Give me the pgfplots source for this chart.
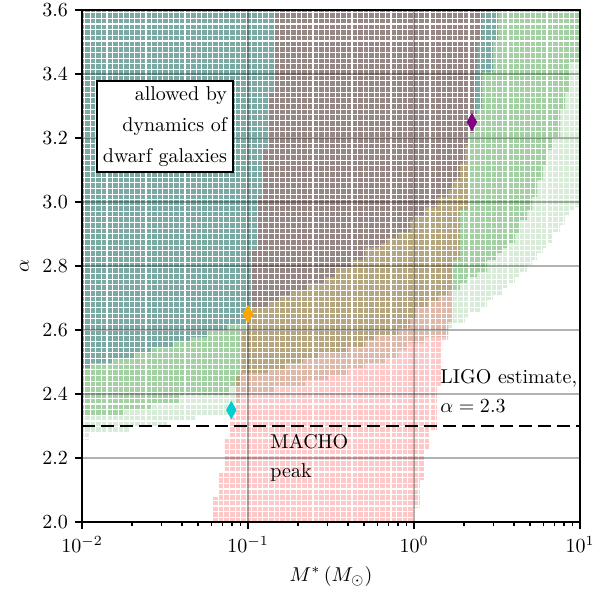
\documentclass[border=0pt]{standalone}
\usepackage{pgfplots}
\pgfplotsset{compat=1.18}

\definecolor{cTeal}{RGB}{122,170,163}
\definecolor{cBrown}{RGB}{150,134,132}
\definecolor{cGreen}{RGB}{163,209,163}
\definecolor{cLight}{RGB}{217,236,217}
\definecolor{cOlive}{RGB}{181,166,128}
\definecolor{cPinkBr}{RGB}{222,184,168}
\definecolor{cPink}{RGB}{255,200,200}
\definecolor{cOrange}{RGB}{255,165,0}
\definecolor{cCyan}{RGB}{0,206,209}
\definecolor{cPurple}{RGB}{128,0,128}

\pgfplotsset{
  panel/.style={scale only axis, width=249pt, height=256pt,
    xmin=-2, xmax=1, ymin=2, ymax=3.6},
  region/.style={draw=none, fill=#1, mark=none},
}

\begin{document}
\begin{tikzpicture}
% allowed regions; x is log10(M*/Msun)
\begin{axis}[panel, axis on top, axis line style={draw=none}, tick style={draw=none},
  xtick={-1.98373,-1.95018,...,1}, ytick={2.01448,2.0322,...,3.6},
  xticklabels={}, yticklabels={}, major tick length=0pt,
  grid=major, major grid style={white, line width=0.55pt}]

% light green (outer band)
\addplot[region=cLight] coordinates {
 (-2,3.6)(1,3.6)(1,2.984)(0.970,2.984)(0.970,2.975)(0.940,2.975)(0.940,2.959)(0.910,2.959)
 (0.910,2.928)(0.880,2.928)(0.880,2.906)(0.837,2.906)(0.837,2.872)(0.807,2.872)(0.807,2.856)
 (0.777,2.856)(0.777,2.841)(0.741,2.841)(0.741,2.819)(0.711,2.819)(0.711,2.803)(0.681,2.803)
 (0.681,2.781)(0.639,2.781)(0.639,2.766)(0.608,2.766)(0.608,2.747)(0.566,2.747)(0.566,2.731)
 (0.536,2.731)(0.536,2.709)(0.476,2.709)(0.476,2.694)(0.440,2.694)(0.440,2.672)(0.398,2.672)
 (0.398,2.656)(0.337,2.656)(0.337,2.641)(0.307,2.641)(0.307,2.622)(0.235,2.622)(0.235,2.606)
 (0.205,2.606)(0.205,2.578)(0.066,2.578)(0.066,2.559)(-0.036,2.559)(-0.036,2.538)(-0.096,2.538)
 (-0.096,2.513)(-0.175,2.513)(-0.175,2.497)(-0.295,2.497)(-0.295,2.481)(-0.398,2.481)(-0.398,2.459)
 (-0.518,2.459)(-0.518,2.444)(-0.657,2.444)(-0.657,2.422)(-0.837,2.422)(-0.837,2.403)(-1.042,2.403)
 (-1.042,2.372)(-1.072,2.372)(-1.072,2.334)(-1.319,2.334)(-1.319,2.316)(-1.488,2.316)(-1.488,2.297)
 (-1.717,2.297)(-1.717,2.281)(-1.958,2.281)(-1.958,2.256)(-2,2.256)};

% green (inner band)
\addplot[region=cGreen] coordinates {
 (-2,3.6)(1,3.6)(1,3.438)(0.940,3.438)(0.940,3.341)(0.910,3.341)(0.910,3.288)(0.880,3.288)
 (0.880,3.203)(0.837,3.203)(0.837,3.163)(0.807,3.163)(0.807,3.116)(0.777,3.116)(0.777,3.069)
 (0.741,3.069)(0.741,3.016)(0.711,3.016)(0.711,2.975)(0.681,2.975)(0.681,2.944)(0.639,2.944)
 (0.639,2.903)(0.608,2.903)(0.608,2.872)(0.566,2.872)(0.566,2.856)(0.536,2.856)(0.536,2.841)
 (0.494,2.841)(0.494,2.819)(0.440,2.819)(0.440,2.781)(0.380,2.781)(0.380,2.766)(0.319,2.766)
 (0.319,2.747)(0.277,2.747)(0.277,2.725)(0.235,2.725)(0.205,2.725)(0.205,2.709)(0.145,2.709)
 (0.145,2.688)(0.084,2.688)(0.084,2.669)(0.006,2.669)(0.006,2.638)(-0.024,2.638)(-0.024,2.606)
 (-0.096,2.606)(-0.096,2.584)(-0.235,2.584)(-0.235,2.569)(-0.295,2.569)(-0.295,2.547)(-0.398,2.547)
 (-0.398,2.528)(-0.578,2.528)(-0.578,2.513)(-0.669,2.513)(-0.669,2.497)(-0.771,2.497)(-0.771,2.475)
 (-0.880,2.475)(-0.880,2.466)(-1.042,2.466)(-1.042,2.422)(-1.114,2.422)(-1.114,2.397)(-1.416,2.397)
 (-1.416,2.366)(-1.578,2.366)(-1.578,2.350)(-1.747,2.350)(-1.747,2.334)(-2,2.334)};

% MACHO peak region
\addplot[region=cPink] coordinates {
 (-0.807,3.6)(-0.807,3.591)(-0.837,3.591)(-0.837,3.341)(-0.873,3.341)(-0.873,3.163)(-0.910,3.163)
 (-0.910,3.016)(-0.940,3.016)(-0.940,2.850)(-0.976,2.850)(-0.976,2.725)(-1.000,2.725)(-1.000,2.600)
 (-1.036,2.600)(-1.036,2.459)(-1.072,2.459)(-1.072,2.328)(-1.108,2.328)(-1.108,2.263)(-1.139,2.263)
 (-1.139,2.153)(-1.175,2.153)(-1.175,2.078)(-1.211,2.078)(-1.211,2.0)(-0.006,2.0)(-0.006,2.044)
 (0.036,2.044)(0.036,2.131)(0.066,2.131)(0.066,2.225)(0.096,2.225)(0.096,2.288)(0.139,2.288)
 (0.139,2.422)(0.169,2.422)(0.169,2.569)(0.205,2.569)(0.205,2.625)(0.235,2.625)(0.235,2.819)
 (0.277,2.819)(0.277,2.975)(0.337,2.975)(0.337,3.216)(0.367,3.216)(0.367,3.288)(0.373,3.288)
 (0.373,3.406)(0.380,3.406)(0.380,3.5)(0.410,3.5)(0.410,3.6)};

% MACHO peak and light green band
\addplot[region=cPinkBr] coordinates {
 (-0.807,3.6)(-0.807,3.591)(-0.837,3.591)(-0.837,3.341)(-0.873,3.341)(-0.873,3.163)(-0.910,3.163)
 (-0.910,3.016)(-0.940,3.016)(-0.940,2.850)(-0.976,2.850)(-0.976,2.725)(-1.000,2.725)(-1.000,2.600)
 (-1.036,2.600)(-1.036,2.459)(-1.072,2.459)(-1.072,2.372)(-1.042,2.372)(-1.042,2.403)(-0.837,2.403)
 (-0.837,2.422)(-0.657,2.422)(-0.657,2.444)(-0.518,2.444)(-0.518,2.459)(-0.398,2.459)(-0.398,2.481)
 (-0.295,2.481)(-0.295,2.497)(-0.175,2.497)(-0.175,2.513)(-0.096,2.513)(-0.096,2.538)(-0.036,2.538)
 (-0.036,2.559)(0.066,2.559)(0.066,2.578)(0.205,2.578)(0.205,2.625)(0.235,2.625)(0.235,2.819)
 (0.277,2.819)(0.277,2.975)(0.337,2.975)(0.337,3.216)(0.367,3.216)(0.367,3.288)(0.373,3.288)
 (0.373,3.406)(0.380,3.406)(0.380,3.5)(0.410,3.5)(0.410,3.6)};

% MACHO peak and green band
\addplot[region=cOlive] coordinates {
 (-0.807,3.6)(-0.807,3.591)(-0.837,3.591)(-0.837,3.341)(-0.873,3.341)(-0.873,3.163)(-0.910,3.163)
 (-0.910,3.016)(-0.940,3.016)(-0.940,2.850)(-0.976,2.850)(-0.976,2.725)(-1.000,2.725)(-1.000,2.600)
 (-1.036,2.600)(-1.036,2.459)(-1.072,2.459)(-1.072,2.422)(-1.042,2.422)(-1.042,2.466)(-0.880,2.466)
 (-0.880,2.475)(-0.771,2.475)(-0.771,2.497)(-0.669,2.497)(-0.669,2.513)(-0.578,2.513)(-0.578,2.528)
 (-0.398,2.528)(-0.398,2.547)(-0.295,2.547)(-0.295,2.569)(-0.235,2.569)(-0.235,2.584)(-0.096,2.584)
 (-0.096,2.606)(-0.024,2.606)(-0.024,2.638)(0.006,2.638)(0.006,2.669)(0.084,2.669)(0.084,2.688)
 (0.145,2.688)(0.145,2.709)(0.205,2.709)(0.205,2.725)(0.235,2.725)(0.235,2.819)(0.277,2.819)
 (0.277,2.975)(0.337,2.975)(0.337,3.216)(0.367,3.216)(0.367,3.288)(0.373,3.288)(0.373,3.406)
 (0.380,3.406)(0.380,3.5)(0.410,3.5)(0.410,3.6)};

% dwarf galaxy dynamics
\addplot[region=cTeal] coordinates {
 (-2,3.6)(0.506,3.6)(0.506,3.5)(0.476,3.5)(0.476,3.406)(0.410,3.406)(0.410,3.288)(0.380,3.288)
 (0.380,3.272)(0.367,3.272)(0.367,3.216)(0.337,3.216)(0.337,3.178)(0.307,3.178)(0.307,3.122)
 (0.277,3.122)(0.277,3.069)(0.235,3.069)(0.235,3.038)(0.205,3.038)(0.205,3.016)(0.139,3.016)
 (0.139,2.984)(0.066,2.984)(0.066,2.959)(-0.006,2.959)(-0.006,2.944)(-0.024,2.944)(-0.024,2.906)
 (-0.096,2.906)(-0.096,2.888)(-0.163,2.888)(-0.163,2.872)(-0.199,2.872)(-0.199,2.859)(-0.295,2.859)
 (-0.295,2.819)(-0.367,2.819)(-0.367,2.797)(-0.470,2.797)(-0.470,2.766)(-0.536,2.766)(-0.536,2.747)
 (-0.639,2.747)(-0.639,2.725)(-0.741,2.725)(-0.741,2.709)(-0.807,2.709)(-0.807,2.688)(-0.880,2.688)
 (-0.880,2.672)(-0.982,2.672)(-0.982,2.625)(-1.006,2.625)(-1.006,2.616)(-1.127,2.616)(-1.127,2.600)
 (-1.247,2.600)(-1.247,2.578)(-1.349,2.578)(-1.349,2.563)(-1.446,2.563)(-1.446,2.547)(-1.578,2.547)
 (-1.578,2.528)(-1.681,2.528)(-1.681,2.513)(-1.819,2.513)(-1.819,2.497)(-1.952,2.497)(-1.952,2.481)
 (-2,2.481)};

% dwarf galaxy dynamics and MACHO peak
\addplot[region=cBrown] coordinates {
 (-0.807,3.6)(0.410,3.6)(0.410,3.5)(0.380,3.5)(0.380,3.406)(0.373,3.406)(0.373,3.288)(0.367,3.288)
 (0.367,3.216)(0.337,3.216)(0.337,3.178)(0.307,3.178)(0.307,3.122)(0.277,3.122)(0.277,3.069)
 (0.235,3.069)(0.235,3.038)(0.205,3.038)(0.205,3.016)(0.139,3.016)(0.139,2.984)(0.066,2.984)
 (0.066,2.959)(-0.006,2.959)(-0.006,2.944)(-0.024,2.944)(-0.024,2.906)(-0.096,2.906)(-0.096,2.888)
 (-0.163,2.888)(-0.163,2.872)(-0.199,2.872)(-0.199,2.859)(-0.295,2.859)(-0.295,2.819)(-0.367,2.819)
 (-0.367,2.797)(-0.470,2.797)(-0.470,2.766)(-0.536,2.766)(-0.536,2.747)(-0.639,2.747)(-0.639,2.725)
 (-0.741,2.725)(-0.741,2.709)(-0.807,2.709)(-0.807,2.688)(-0.880,2.688)(-0.880,2.672)(-0.976,2.672)
 (-0.976,2.850)(-0.940,2.850)(-0.940,3.016)(-0.910,3.016)(-0.910,3.163)(-0.873,3.163)(-0.873,3.341)
 (-0.837,3.341)(-0.837,3.591)(-0.807,3.591)};
\end{axis}

\begin{axis}[panel, name=main,
  xtick={-2,-1,0,1}, xticklabels={$10^{-2}$,$10^{-1}$,$10^{0}$,$10^{1}$},
  minor xtick={-1.69897,-1.52288,-1.39794,-1.30103,-1.22185,-1.15490,-1.09691,-1.04576,
    -0.69897,-0.52288,-0.39794,-0.30103,-0.22185,-0.15490,-0.09691,-0.04576,
    0.30103,0.47712,0.60206,0.69897,0.77815,0.84510,0.90309,0.95424},
  ytick={2,2.2,2.4,2.6,2.8,3,3.2,3.4,3.6},
  yticklabel style={/pgf/number format/.cd,fixed,fixed zerofill,precision=1,/tikz/.cd},
  tick align=outside, tick pos=left,
  major tick length=3.5pt, minor tick length=2pt,
  tick style={black, line width=0.6pt},
  axis line style={line width=0.8pt},
  grid=major, major grid style={black, opacity=0.3, line width=0.7pt},
  xlabel={$M^*\,(M_\odot)$}, ylabel={$\alpha$}]

% LIGO estimate
\addplot[black, line width=1.4pt, dash pattern=on 6.5pt off 3pt, mark=none]
  coordinates {(-2,2.3)(1,2.3)};

\addplot[only marks, mark=diamond*, mark size=4.2pt,
  mark options={xscale=0.75, draw=cOrange, fill=cOrange}] coordinates {(-1.0,2.65)};
\addplot[only marks, mark=diamond*, mark size=4.2pt,
  mark options={xscale=0.75, draw=cCyan, fill=cCyan}] coordinates {(-1.1006,2.35)};
\addplot[only marks, mark=diamond*, mark size=4.2pt,
  mark options={xscale=0.75, draw=cPurple, fill=cPurple}] coordinates {(0.349,3.25)};

\node[anchor=base west, inner sep=0pt] at (axis cs:0.157,2.434) {LIGO estimate{,}};
\node[anchor=base west, inner sep=0pt] at (axis cs:0.157,2.341) {$\alpha = 2.3$};
\node[anchor=base west, inner sep=0pt] at (axis cs:-0.867,2.231) {MACHO};
\node[anchor=base west, inner sep=0pt] at (axis cs:-0.867,2.1375) {peak};
\node[draw, line width=1pt, fill=white, align=right, inner xsep=3pt, inner ysep=2.8pt,
  anchor=north west, font=\fontsize{10}{15.5}\selectfont]
  at (axis cs:-1.916,3.381) {allowed by\\dynamics of\\dwarf galaxies};
\end{axis}
\pgfresetboundingbox
\path ([shift={(-41pt,-35pt)}]main.south west) rectangle ([shift={(8.5pt,5pt)}]main.north east);
\end{tikzpicture}
\end{document}
